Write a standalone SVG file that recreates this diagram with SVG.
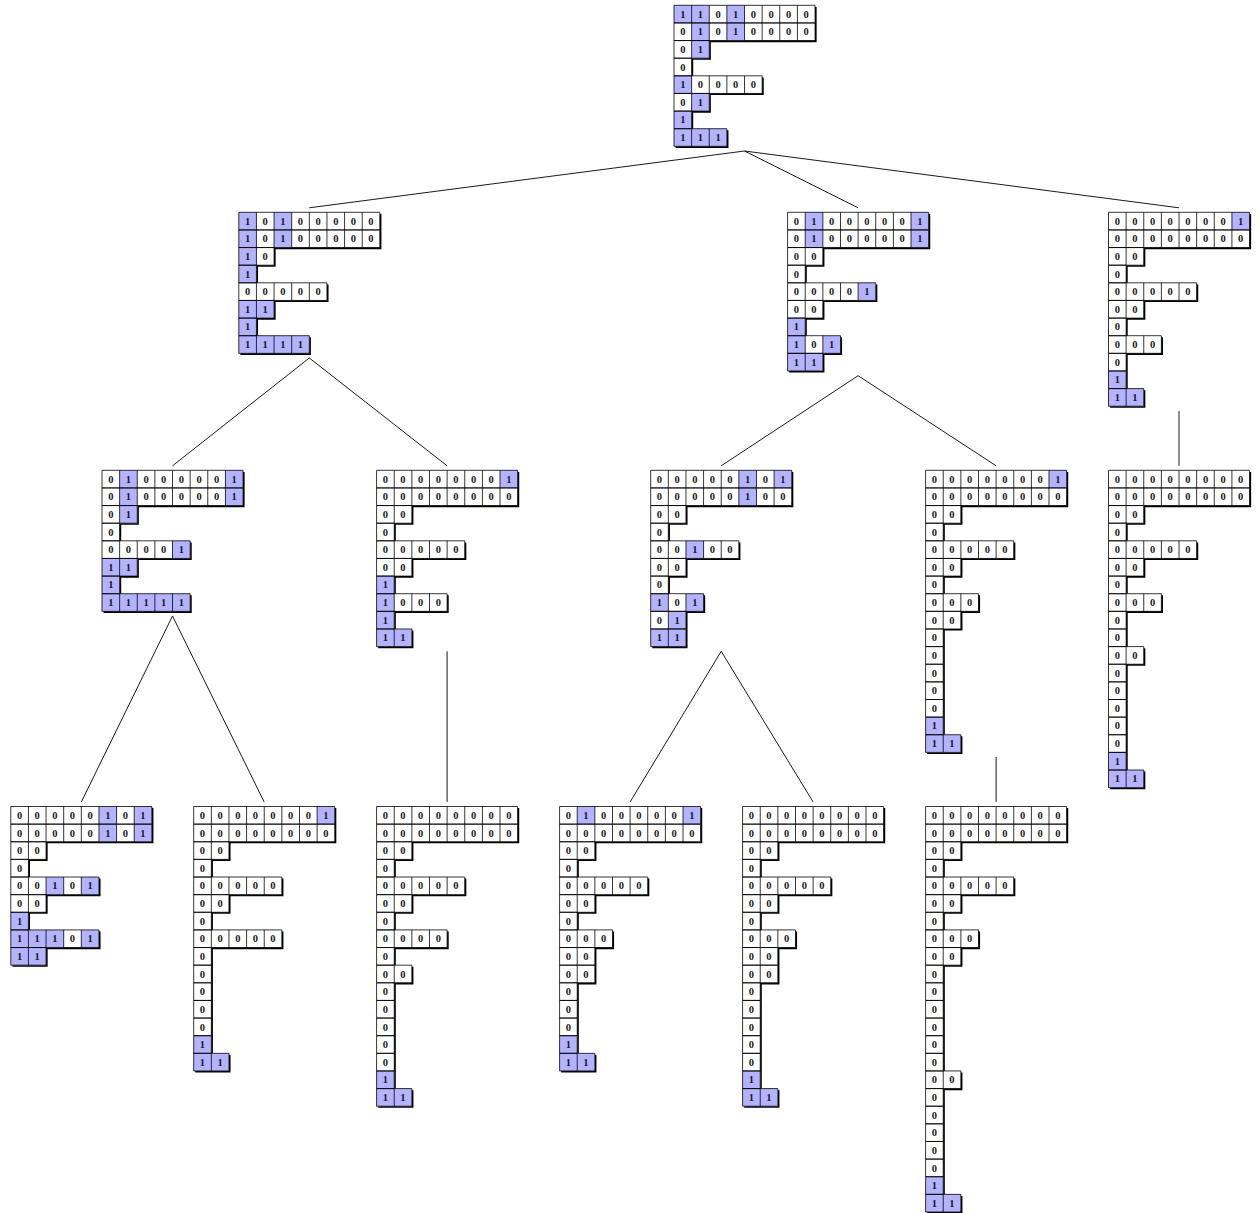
<svg xmlns="http://www.w3.org/2000/svg" xmlns:xlink="http://www.w3.org/1999/xlink" width="1259" height="1213" viewBox="0 0 1259 1213">
<style>
.sh{fill:#000}
.wf{fill:#fff}
.bf{fill:#b3b3ff}
.ol{fill:none;stroke:#000;stroke-width:.045}
text{font-family:"Liberation Serif","Times New Roman",serif;font-weight:700;font-size:10.5px;text-anchor:middle;fill:#1a1a1a}
#connectors line{stroke:#000;stroke-width:.9}
</style>
<defs>
<path id="pR" d="M0 0h8v1H0zM0 1h8v1H0zM0 2h2v1H0zM0 3h1v1H0zM0 4h5v1H0zM0 5h2v1H0zM0 6h1v1H0zM0 7h3v1H0z"/>
<path id="pA" d="M0 0h8v1H0zM0 1h8v1H0zM0 2h2v1H0zM0 3h1v1H0zM0 4h5v1H0zM0 5h2v1H0zM0 6h1v1H0zM0 7h4v1H0z"/>
<path id="pB" d="M0 0h8v1H0zM0 1h8v1H0zM0 2h2v1H0zM0 3h1v1H0zM0 4h5v1H0zM0 5h2v1H0zM0 6h1v1H0zM0 7h3v1H0zM0 8h2v1H0z"/>
<path id="pC" d="M0 0h8v1H0zM0 1h8v1H0zM0 2h2v1H0zM0 3h1v1H0zM0 4h5v1H0zM0 5h2v1H0zM0 6h1v1H0zM0 7h3v1H0zM0 8h1v1H0zM0 9h1v1H0zM0 10h2v1H0z"/>
<path id="pA1" d="M0 0h8v1H0zM0 1h8v1H0zM0 2h2v1H0zM0 3h1v1H0zM0 4h5v1H0zM0 5h2v1H0zM0 6h1v1H0zM0 7h5v1H0z"/>
<path id="pA2" d="M0 0h8v1H0zM0 1h8v1H0zM0 2h2v1H0zM0 3h1v1H0zM0 4h5v1H0zM0 5h2v1H0zM0 6h1v1H0zM0 7h4v1H0zM0 8h1v1H0zM0 9h2v1H0z"/>
<path id="pB1" d="M0 0h8v1H0zM0 1h8v1H0zM0 2h2v1H0zM0 3h1v1H0zM0 4h5v1H0zM0 5h2v1H0zM0 6h1v1H0zM0 7h3v1H0zM0 8h2v1H0zM0 9h2v1H0z"/>
<path id="pB2" d="M0 0h8v1H0zM0 1h8v1H0zM0 2h2v1H0zM0 3h1v1H0zM0 4h5v1H0zM0 5h2v1H0zM0 6h1v1H0zM0 7h3v1H0zM0 8h2v1H0zM0 9h1v1H0zM0 10h1v1H0zM0 11h1v1H0zM0 12h1v1H0zM0 13h1v1H0zM0 14h1v1H0zM0 15h2v1H0z"/>
<path id="pC1" d="M0 0h8v1H0zM0 1h8v1H0zM0 2h2v1H0zM0 3h1v1H0zM0 4h5v1H0zM0 5h2v1H0zM0 6h1v1H0zM0 7h3v1H0zM0 8h1v1H0zM0 9h1v1H0zM0 10h2v1H0zM0 11h1v1H0zM0 12h1v1H0zM0 13h1v1H0zM0 14h1v1H0zM0 15h1v1H0zM0 16h1v1H0zM0 17h2v1H0z"/>
<path id="pA1a" d="M0 0h8v1H0zM0 1h8v1H0zM0 2h2v1H0zM0 3h1v1H0zM0 4h5v1H0zM0 5h2v1H0zM0 6h1v1H0zM0 7h5v1H0zM0 8h2v1H0z"/>
<path id="pA1b" d="M0 0h8v1H0zM0 1h8v1H0zM0 2h2v1H0zM0 3h1v1H0zM0 4h5v1H0zM0 5h2v1H0zM0 6h1v1H0zM0 7h5v1H0zM0 8h1v1H0zM0 9h1v1H0zM0 10h1v1H0zM0 11h1v1H0zM0 12h1v1H0zM0 13h1v1H0zM0 14h2v1H0z"/>
<path id="pA2a" d="M0 0h8v1H0zM0 1h8v1H0zM0 2h2v1H0zM0 3h1v1H0zM0 4h5v1H0zM0 5h2v1H0zM0 6h1v1H0zM0 7h4v1H0zM0 8h1v1H0zM0 9h2v1H0zM0 10h1v1H0zM0 11h1v1H0zM0 12h1v1H0zM0 13h1v1H0zM0 14h1v1H0zM0 15h1v1H0zM0 16h2v1H0z"/>
<path id="pB1a" d="M0 0h8v1H0zM0 1h8v1H0zM0 2h2v1H0zM0 3h1v1H0zM0 4h5v1H0zM0 5h2v1H0zM0 6h1v1H0zM0 7h3v1H0zM0 8h2v1H0zM0 9h2v1H0zM0 10h1v1H0zM0 11h1v1H0zM0 12h1v1H0zM0 13h1v1H0zM0 14h2v1H0z"/>
<path id="pB1b" d="M0 0h8v1H0zM0 1h8v1H0zM0 2h2v1H0zM0 3h1v1H0zM0 4h5v1H0zM0 5h2v1H0zM0 6h1v1H0zM0 7h3v1H0zM0 8h2v1H0zM0 9h2v1H0zM0 10h1v1H0zM0 11h1v1H0zM0 12h1v1H0zM0 13h1v1H0zM0 14h1v1H0zM0 15h1v1H0zM0 16h2v1H0z"/>
<path id="pB2a" d="M0 0h8v1H0zM0 1h8v1H0zM0 2h2v1H0zM0 3h1v1H0zM0 4h5v1H0zM0 5h2v1H0zM0 6h1v1H0zM0 7h3v1H0zM0 8h2v1H0zM0 9h1v1H0zM0 10h1v1H0zM0 11h1v1H0zM0 12h1v1H0zM0 13h1v1H0zM0 14h1v1H0zM0 15h2v1H0zM0 16h1v1H0zM0 17h1v1H0zM0 18h1v1H0zM0 19h1v1H0zM0 20h1v1H0zM0 21h1v1H0zM0 22h2v1H0z"/>
</defs>
<rect width="1259" height="1213" fill="#fff"/>

<g id="connectors">
<line x1="744.5" y1="151" x2="309.3" y2="207.8"/>
<line x1="744.5" y1="151" x2="858.1" y2="207.8"/>
<line x1="744.5" y1="151" x2="1179" y2="207.8"/>
<line x1="309.3" y1="358" x2="172.5" y2="465.8"/>
<line x1="309.3" y1="358" x2="447.1" y2="465.8"/>
<line x1="858.1" y1="375.7" x2="721.2" y2="465.8"/>
<line x1="858.1" y1="375.7" x2="996.1" y2="465.8"/>
<line x1="1179" y1="410.9" x2="1179" y2="465.8"/>
<line x1="172.5" y1="616" x2="81.3" y2="802"/>
<line x1="172.5" y1="616" x2="264.2" y2="802"/>
<line x1="447.1" y1="651.3" x2="447.1" y2="802"/>
<line x1="721.2" y1="651.3" x2="630.1" y2="802"/>
<line x1="721.2" y1="651.3" x2="813.1" y2="802"/>
<line x1="996.1" y1="757" x2="996.1" y2="802"/>
</g>

<g id="n-root" transform="translate(674,5.3)">
<g transform="scale(17.63)">
<use href="#pR" class="sh" transform="translate(.09 .09)"/><use href="#pR" class="wf"/>
<path class="bf" d="M0 0h1v1h-1zM1 0h1v3h-1zM3 0h1v2h-1zM0 4h1v1h-1zM1 5h1v1h-1zM0 6h1v2h-1zM1 7h2v1h-2z"/>
<use href="#pR" class="ol"/>
<path class="ol" d="M1 0V3M1 4V6M1 7V8M2 0V2M2 4V5M2 7V8M3 0V2M3 4V5M4 0V2M4 4V5M5 0V2M6 0V2M7 0V2"/>
</g>
<text x="8.8 26.4 44.1 61.7 79.3 97 114.6 132.2" y="12.4">11010000</text>
<text x="8.8 26.4 44.1 61.7 79.3 97 114.6 132.2" y="30">01010000</text>
<text x="8.8 26.4" y="47.7">01</text>
<text x="8.8" y="65.3">0</text>
<text x="8.8 26.4 44.1 61.7 79.3" y="82.9">10000</text>
<text x="8.8 26.4" y="100.6">01</text>
<text x="8.8" y="118.2">1</text>
<text x="8.8 26.4 44.1" y="135.8">111</text>
</g>

<g id="n-a" transform="translate(238.8,212.3)">
<g transform="scale(17.63)">
<use href="#pA" class="sh" transform="translate(.09 .09)"/><use href="#pA" class="wf"/>
<path class="bf" d="M0 0h1v4h-1zM2 0h1v2h-1zM0 5h1v3h-1zM1 5h1v1h-1zM1 7h3v1h-3z"/>
<use href="#pA" class="ol"/>
<path class="ol" d="M1 0V3M1 4V6M1 7V8M2 0V2M2 4V5M2 7V8M3 0V2M3 4V5M3 7V8M4 0V2M4 4V5M5 0V2M6 0V2M7 0V2"/>
</g>
<text x="8.8 26.4 44.1 61.7 79.3 97 114.6 132.2" y="12.4">10100000</text>
<text x="8.8 26.4 44.1 61.7 79.3 97 114.6 132.2" y="30">10100000</text>
<text x="8.8 26.4" y="47.7">10</text>
<text x="8.8" y="65.3">1</text>
<text x="8.8 26.4 44.1 61.7 79.3" y="82.9">00000</text>
<text x="8.8 26.4" y="100.6">11</text>
<text x="8.8" y="118.2">1</text>
<text x="8.8 26.4 44.1 61.7" y="135.8">1111</text>
</g>

<g id="n-b" transform="translate(787.6,212.3)">
<g transform="scale(17.63)">
<use href="#pB" class="sh" transform="translate(.09 .09)"/><use href="#pB" class="wf"/>
<path class="bf" d="M1 0h1v2h-1zM7 0h1v2h-1zM4 4h1v1h-1zM0 6h1v3h-1zM2 7h1v1h-1zM1 8h1v1h-1z"/>
<use href="#pB" class="ol"/>
<path class="ol" d="M1 0V3M1 4V6M1 7V9M2 0V2M2 4V5M2 7V8M3 0V2M3 4V5M4 0V2M4 4V5M5 0V2M6 0V2M7 0V2"/>
</g>
<text x="8.8 26.4 44.1 61.7 79.3 97 114.6 132.2" y="12.4">01000001</text>
<text x="8.8 26.4 44.1 61.7 79.3 97 114.6 132.2" y="30">01000001</text>
<text x="8.8 26.4" y="47.7">00</text>
<text x="8.8" y="65.3">0</text>
<text x="8.8 26.4 44.1 61.7 79.3" y="82.9">00001</text>
<text x="8.8 26.4" y="100.6">00</text>
<text x="8.8" y="118.2">1</text>
<text x="8.8 26.4 44.1" y="135.8">101</text>
<text x="8.8 26.4" y="153.4">11</text>
</g>

<g id="n-c" transform="translate(1108.5,212.3)">
<g transform="scale(17.63)">
<use href="#pC" class="sh" transform="translate(.09 .09)"/><use href="#pC" class="wf"/>
<path class="bf" d="M7 0h1v1h-1zM0 9h1v2h-1zM1 10h1v1h-1z"/>
<use href="#pC" class="ol"/>
<path class="ol" d="M1 0V3M1 4V6M1 7V8M1 10V11M2 0V2M2 4V5M2 7V8M3 0V2M3 4V5M4 0V2M4 4V5M5 0V2M6 0V2M7 0V2"/>
</g>
<text x="8.8 26.4 44.1 61.7 79.3 97 114.6 132.2" y="12.4">00000001</text>
<text x="8.8 26.4 44.1 61.7 79.3 97 114.6 132.2" y="30">00000000</text>
<text x="8.8 26.4" y="47.7">00</text>
<text x="8.8" y="65.3">0</text>
<text x="8.8 26.4 44.1 61.7 79.3" y="82.9">00000</text>
<text x="8.8 26.4" y="100.6">00</text>
<text x="8.8" y="118.2">0</text>
<text x="8.8 26.4 44.1" y="135.8">000</text>
<text x="8.8" y="153.4">0</text>
<text x="8.8" y="171.1">1</text>
<text x="8.8 26.4" y="188.7">11</text>
</g>

<g id="n-a1" transform="translate(102,470.3)">
<g transform="scale(17.63)">
<use href="#pA1" class="sh" transform="translate(.09 .09)"/><use href="#pA1" class="wf"/>
<path class="bf" d="M1 0h1v3h-1zM7 0h1v2h-1zM4 4h1v1h-1zM0 5h1v3h-1zM1 5h1v1h-1zM1 7h4v1h-4z"/>
<use href="#pA1" class="ol"/>
<path class="ol" d="M1 0V3M1 4V6M1 7V8M2 0V2M2 4V5M2 7V8M3 0V2M3 4V5M3 7V8M4 0V2M4 4V5M4 7V8M5 0V2M6 0V2M7 0V2"/>
</g>
<text x="8.8 26.4 44.1 61.7 79.3 97 114.6 132.2" y="12.4">01000001</text>
<text x="8.8 26.4 44.1 61.7 79.3 97 114.6 132.2" y="30">01000001</text>
<text x="8.8 26.4" y="47.7">01</text>
<text x="8.8" y="65.3">0</text>
<text x="8.8 26.4 44.1 61.7 79.3" y="82.9">00001</text>
<text x="8.8 26.4" y="100.6">11</text>
<text x="8.8" y="118.2">1</text>
<text x="8.8 26.4 44.1 61.7 79.3" y="135.8">11111</text>
</g>

<g id="n-a2" transform="translate(376.6,470.3)">
<g transform="scale(17.63)">
<use href="#pA2" class="sh" transform="translate(.09 .09)"/><use href="#pA2" class="wf"/>
<path class="bf" d="M7 0h1v1h-1zM0 6h1v4h-1zM1 9h1v1h-1z"/>
<use href="#pA2" class="ol"/>
<path class="ol" d="M1 0V3M1 4V6M1 7V8M1 9V10M2 0V2M2 4V5M2 7V8M3 0V2M3 4V5M3 7V8M4 0V2M4 4V5M5 0V2M6 0V2M7 0V2"/>
</g>
<text x="8.8 26.4 44.1 61.7 79.3 97 114.6 132.2" y="12.4">00000001</text>
<text x="8.8 26.4 44.1 61.7 79.3 97 114.6 132.2" y="30">00000000</text>
<text x="8.8 26.4" y="47.7">00</text>
<text x="8.8" y="65.3">0</text>
<text x="8.8 26.4 44.1 61.7 79.3" y="82.9">00000</text>
<text x="8.8 26.4" y="100.6">00</text>
<text x="8.8" y="118.2">1</text>
<text x="8.8 26.4 44.1 61.7" y="135.8">1000</text>
<text x="8.8" y="153.4">1</text>
<text x="8.8 26.4" y="171.1">11</text>
</g>

<g id="n-b1" transform="translate(650.7,470.3)">
<g transform="scale(17.63)">
<use href="#pB1" class="sh" transform="translate(.09 .09)"/><use href="#pB1" class="wf"/>
<path class="bf" d="M5 0h1v2h-1zM7 0h1v1h-1zM2 4h1v1h-1zM0 7h1v1h-1zM2 7h1v1h-1zM1 8h1v2h-1zM0 9h1v1h-1z"/>
<use href="#pB1" class="ol"/>
<path class="ol" d="M1 0V3M1 4V6M1 7V10M2 0V2M2 4V5M2 7V8M3 0V2M3 4V5M4 0V2M4 4V5M5 0V2M6 0V2M7 0V2"/>
</g>
<text x="8.8 26.4 44.1 61.7 79.3 97 114.6 132.2" y="12.4">00000101</text>
<text x="8.8 26.4 44.1 61.7 79.3 97 114.6 132.2" y="30">00000100</text>
<text x="8.8 26.4" y="47.7">00</text>
<text x="8.8" y="65.3">0</text>
<text x="8.8 26.4 44.1 61.7 79.3" y="82.9">00100</text>
<text x="8.8 26.4" y="100.6">00</text>
<text x="8.8" y="118.2">0</text>
<text x="8.8 26.4 44.1" y="135.8">101</text>
<text x="8.8 26.4" y="153.4">01</text>
<text x="8.8 26.4" y="171.1">11</text>
</g>

<g id="n-b2" transform="translate(925.6,470.3)">
<g transform="scale(17.63)">
<use href="#pB2" class="sh" transform="translate(.09 .09)"/><use href="#pB2" class="wf"/>
<path class="bf" d="M7 0h1v1h-1zM0 14h1v2h-1zM1 15h1v1h-1z"/>
<use href="#pB2" class="ol"/>
<path class="ol" d="M1 0V3M1 4V6M1 7V9M1 15V16M2 0V2M2 4V5M2 7V8M3 0V2M3 4V5M4 0V2M4 4V5M5 0V2M6 0V2M7 0V2"/>
</g>
<text x="8.8 26.4 44.1 61.7 79.3 97 114.6 132.2" y="12.4">00000001</text>
<text x="8.8 26.4 44.1 61.7 79.3 97 114.6 132.2" y="30">00000000</text>
<text x="8.8 26.4" y="47.7">00</text>
<text x="8.8" y="65.3">0</text>
<text x="8.8 26.4 44.1 61.7 79.3" y="82.9">00000</text>
<text x="8.8 26.4" y="100.6">00</text>
<text x="8.8" y="118.2">0</text>
<text x="8.8 26.4 44.1" y="135.8">000</text>
<text x="8.8 26.4" y="153.4">00</text>
<text x="8.8" y="171.1">0</text>
<text x="8.8" y="188.7">0</text>
<text x="8.8" y="206.3">0</text>
<text x="8.8" y="224">0</text>
<text x="8.8" y="241.6">0</text>
<text x="8.8" y="259.2">1</text>
<text x="8.8 26.4" y="276.9">11</text>
</g>

<g id="n-c1" transform="translate(1108.5,470.3)">
<g transform="scale(17.63)">
<use href="#pC1" class="sh" transform="translate(.09 .09)"/><use href="#pC1" class="wf"/>
<path class="bf" d="M0 16h1v2h-1zM1 17h1v1h-1z"/>
<use href="#pC1" class="ol"/>
<path class="ol" d="M1 0V3M1 4V6M1 7V8M1 10V11M1 17V18M2 0V2M2 4V5M2 7V8M3 0V2M3 4V5M4 0V2M4 4V5M5 0V2M6 0V2M7 0V2"/>
</g>
<text x="8.8 26.4 44.1 61.7 79.3 97 114.6 132.2" y="12.4">00000000</text>
<text x="8.8 26.4 44.1 61.7 79.3 97 114.6 132.2" y="30">00000000</text>
<text x="8.8 26.4" y="47.7">00</text>
<text x="8.8" y="65.3">0</text>
<text x="8.8 26.4 44.1 61.7 79.3" y="82.9">00000</text>
<text x="8.8 26.4" y="100.6">00</text>
<text x="8.8" y="118.2">0</text>
<text x="8.8 26.4 44.1" y="135.8">000</text>
<text x="8.8" y="153.4">0</text>
<text x="8.8" y="171.1">0</text>
<text x="8.8 26.4" y="188.7">00</text>
<text x="8.8" y="206.3">0</text>
<text x="8.8" y="224">0</text>
<text x="8.8" y="241.6">0</text>
<text x="8.8" y="259.2">0</text>
<text x="8.8" y="276.9">0</text>
<text x="8.8" y="294.5">1</text>
<text x="8.8 26.4" y="312.1">11</text>
</g>

<g id="n-a1a" transform="translate(10.8,806.5)">
<g transform="scale(17.63)">
<use href="#pA1a" class="sh" transform="translate(.09 .09)"/><use href="#pA1a" class="wf"/>
<path class="bf" d="M5 0h1v2h-1zM7 0h1v2h-1zM2 4h1v1h-1zM4 4h1v1h-1zM0 6h1v3h-1zM1 7h2v1h-2zM1 8h1v1h-1zM4 7h1v1h-1z"/>
<use href="#pA1a" class="ol"/>
<path class="ol" d="M1 0V3M1 4V6M1 7V9M2 0V2M2 4V5M2 7V8M3 0V2M3 4V5M3 7V8M4 0V2M4 4V5M4 7V8M5 0V2M6 0V2M7 0V2"/>
</g>
<text x="8.8 26.4 44.1 61.7 79.3 97 114.6 132.2" y="12.4">00000101</text>
<text x="8.8 26.4 44.1 61.7 79.3 97 114.6 132.2" y="30">00000101</text>
<text x="8.8 26.4" y="47.7">00</text>
<text x="8.8" y="65.3">0</text>
<text x="8.8 26.4 44.1 61.7 79.3" y="82.9">00101</text>
<text x="8.8 26.4" y="100.6">00</text>
<text x="8.8" y="118.2">1</text>
<text x="8.8 26.4 44.1 61.7 79.3" y="135.8">11101</text>
<text x="8.8 26.4" y="153.4">11</text>
</g>

<g id="n-a1b" transform="translate(193.7,806.5)">
<g transform="scale(17.63)">
<use href="#pA1b" class="sh" transform="translate(.09 .09)"/><use href="#pA1b" class="wf"/>
<path class="bf" d="M7 0h1v1h-1zM0 13h1v2h-1zM1 14h1v1h-1z"/>
<use href="#pA1b" class="ol"/>
<path class="ol" d="M1 0V3M1 4V6M1 7V8M1 14V15M2 0V2M2 4V5M2 7V8M3 0V2M3 4V5M3 7V8M4 0V2M4 4V5M4 7V8M5 0V2M6 0V2M7 0V2"/>
</g>
<text x="8.8 26.4 44.1 61.7 79.3 97 114.6 132.2" y="12.4">00000001</text>
<text x="8.8 26.4 44.1 61.7 79.3 97 114.6 132.2" y="30">00000000</text>
<text x="8.8 26.4" y="47.7">00</text>
<text x="8.8" y="65.3">0</text>
<text x="8.8 26.4 44.1 61.7 79.3" y="82.9">00000</text>
<text x="8.8 26.4" y="100.6">00</text>
<text x="8.8" y="118.2">0</text>
<text x="8.8 26.4 44.1 61.7 79.3" y="135.8">00000</text>
<text x="8.8" y="153.4">0</text>
<text x="8.8" y="171.1">0</text>
<text x="8.8" y="188.7">0</text>
<text x="8.8" y="206.3">0</text>
<text x="8.8" y="224">0</text>
<text x="8.8" y="241.6">1</text>
<text x="8.8 26.4" y="259.2">11</text>
</g>

<g id="n-a2a" transform="translate(376.6,806.5)">
<g transform="scale(17.63)">
<use href="#pA2a" class="sh" transform="translate(.09 .09)"/><use href="#pA2a" class="wf"/>
<path class="bf" d="M0 15h1v2h-1zM1 16h1v1h-1z"/>
<use href="#pA2a" class="ol"/>
<path class="ol" d="M1 0V3M1 4V6M1 7V8M1 9V10M1 16V17M2 0V2M2 4V5M2 7V8M3 0V2M3 4V5M3 7V8M4 0V2M4 4V5M5 0V2M6 0V2M7 0V2"/>
</g>
<text x="8.8 26.4 44.1 61.7 79.3 97 114.6 132.2" y="12.4">00000000</text>
<text x="8.8 26.4 44.1 61.7 79.3 97 114.6 132.2" y="30">00000000</text>
<text x="8.8 26.4" y="47.7">00</text>
<text x="8.8" y="65.3">0</text>
<text x="8.8 26.4 44.1 61.7 79.3" y="82.9">00000</text>
<text x="8.8 26.4" y="100.6">00</text>
<text x="8.8" y="118.2">0</text>
<text x="8.8 26.4 44.1 61.7" y="135.8">0000</text>
<text x="8.8" y="153.4">0</text>
<text x="8.8 26.4" y="171.1">00</text>
<text x="8.8" y="188.7">0</text>
<text x="8.8" y="206.3">0</text>
<text x="8.8" y="224">0</text>
<text x="8.8" y="241.6">0</text>
<text x="8.8" y="259.2">0</text>
<text x="8.8" y="276.9">1</text>
<text x="8.8 26.4" y="294.5">11</text>
</g>

<g id="n-b1a" transform="translate(559.6,806.5)">
<g transform="scale(17.63)">
<use href="#pB1a" class="sh" transform="translate(.09 .09)"/><use href="#pB1a" class="wf"/>
<path class="bf" d="M1 0h1v1h-1zM7 0h1v1h-1zM0 13h1v2h-1zM1 14h1v1h-1z"/>
<use href="#pB1a" class="ol"/>
<path class="ol" d="M1 0V3M1 4V6M1 7V10M1 14V15M2 0V2M2 4V5M2 7V8M3 0V2M3 4V5M4 0V2M4 4V5M5 0V2M6 0V2M7 0V2"/>
</g>
<text x="8.8 26.4 44.1 61.7 79.3 97 114.6 132.2" y="12.4">01000001</text>
<text x="8.8 26.4 44.1 61.7 79.3 97 114.6 132.2" y="30">00000000</text>
<text x="8.8 26.4" y="47.7">00</text>
<text x="8.8" y="65.3">0</text>
<text x="8.8 26.4 44.1 61.7 79.3" y="82.9">00000</text>
<text x="8.8 26.4" y="100.6">00</text>
<text x="8.8" y="118.2">0</text>
<text x="8.8 26.4 44.1" y="135.8">000</text>
<text x="8.8 26.4" y="153.4">00</text>
<text x="8.8 26.4" y="171.1">00</text>
<text x="8.8" y="188.7">0</text>
<text x="8.8" y="206.3">0</text>
<text x="8.8" y="224">0</text>
<text x="8.8" y="241.6">1</text>
<text x="8.8 26.4" y="259.2">11</text>
</g>

<g id="n-b1b" transform="translate(742.6,806.5)">
<g transform="scale(17.63)">
<use href="#pB1b" class="sh" transform="translate(.09 .09)"/><use href="#pB1b" class="wf"/>
<path class="bf" d="M0 15h1v2h-1zM1 16h1v1h-1z"/>
<use href="#pB1b" class="ol"/>
<path class="ol" d="M1 0V3M1 4V6M1 7V10M1 16V17M2 0V2M2 4V5M2 7V8M3 0V2M3 4V5M4 0V2M4 4V5M5 0V2M6 0V2M7 0V2"/>
</g>
<text x="8.8 26.4 44.1 61.7 79.3 97 114.6 132.2" y="12.4">00000000</text>
<text x="8.8 26.4 44.1 61.7 79.3 97 114.6 132.2" y="30">00000000</text>
<text x="8.8 26.4" y="47.7">00</text>
<text x="8.8" y="65.3">0</text>
<text x="8.8 26.4 44.1 61.7 79.3" y="82.9">00000</text>
<text x="8.8 26.4" y="100.6">00</text>
<text x="8.8" y="118.2">0</text>
<text x="8.8 26.4 44.1" y="135.8">000</text>
<text x="8.8 26.4" y="153.4">00</text>
<text x="8.8 26.4" y="171.1">00</text>
<text x="8.8" y="188.7">0</text>
<text x="8.8" y="206.3">0</text>
<text x="8.8" y="224">0</text>
<text x="8.8" y="241.6">0</text>
<text x="8.8" y="259.2">0</text>
<text x="8.8" y="276.9">1</text>
<text x="8.8 26.4" y="294.5">11</text>
</g>

<g id="n-b2a" transform="translate(925.6,806.5)">
<g transform="scale(17.63)">
<use href="#pB2a" class="sh" transform="translate(.09 .09)"/><use href="#pB2a" class="wf"/>
<path class="bf" d="M0 21h1v2h-1zM1 22h1v1h-1z"/>
<use href="#pB2a" class="ol"/>
<path class="ol" d="M1 0V3M1 4V6M1 7V9M1 15V16M1 22V23M2 0V2M2 4V5M2 7V8M3 0V2M3 4V5M4 0V2M4 4V5M5 0V2M6 0V2M7 0V2"/>
</g>
<text x="8.8 26.4 44.1 61.7 79.3 97 114.6 132.2" y="12.4">00000000</text>
<text x="8.8 26.4 44.1 61.7 79.3 97 114.6 132.2" y="30">00000000</text>
<text x="8.8 26.4" y="47.7">00</text>
<text x="8.8" y="65.3">0</text>
<text x="8.8 26.4 44.1 61.7 79.3" y="82.9">00000</text>
<text x="8.8 26.4" y="100.6">00</text>
<text x="8.8" y="118.2">0</text>
<text x="8.8 26.4 44.1" y="135.8">000</text>
<text x="8.8 26.4" y="153.4">00</text>
<text x="8.8" y="171.1">0</text>
<text x="8.8" y="188.7">0</text>
<text x="8.8" y="206.3">0</text>
<text x="8.8" y="224">0</text>
<text x="8.8" y="241.6">0</text>
<text x="8.8" y="259.2">0</text>
<text x="8.8 26.4" y="276.9">00</text>
<text x="8.8" y="294.5">0</text>
<text x="8.8" y="312.1">0</text>
<text x="8.8" y="329.7">0</text>
<text x="8.8" y="347.4">0</text>
<text x="8.8" y="365">0</text>
<text x="8.8" y="382.6">1</text>
<text x="8.8 26.4" y="400.3">11</text>
</g>
</svg>
